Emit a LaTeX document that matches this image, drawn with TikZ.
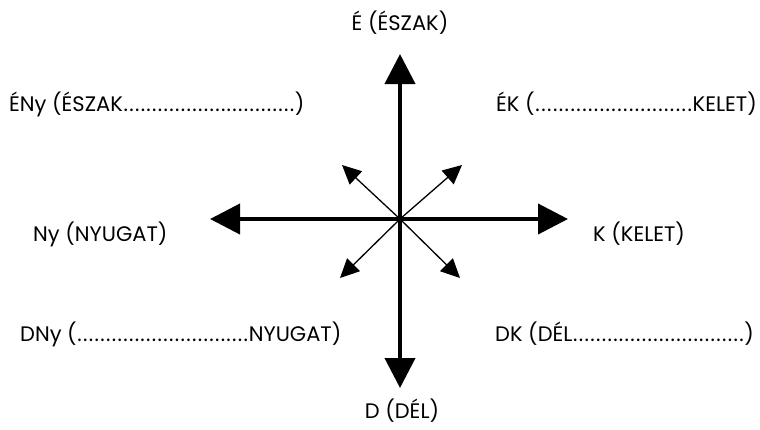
\documentclass[tikz,border=0pt]{standalone}
\usepackage{fontspec}
\setmainfont{Poppins}
\usetikzlibrary{arrows.meta}

\newcommand{\pontok}[1][172pt]{\makebox[#1]{\xleaders\hbox to 5.7pt{\hss.\hss}\hfill}}

\begin{document}
\begin{tikzpicture}[x=1pt,y=-1pt,
    felirat/.style={font=\fontsize{21}{24}\selectfont, inner sep=0pt},
    fo/.style={line width=4pt, -{Triangle[length=30pt,width=30pt]}},
    mellek/.style={line width=1.3pt, -{Triangle[length=19pt,width=18pt]}}]
  \useasboundingbox (0,0) rectangle (760,429);
  % iranyok
  \coordinate (c) at (400,219);
  \coordinate (n) at (400,54);
  \coordinate (s) at (400,388);
  \coordinate (w) at (210,219);
  \coordinate (e) at (568,219);
  \coordinate (nw) at (342,165);
  \coordinate (ne) at (462,165);
  \coordinate (sw) at (340,278);
  \coordinate (se) at (460,278);
  \draw[fo] (c) -- (n);
  \draw[fo] (c) -- (s);
  \draw[fo] (c) -- (w);
  \draw[fo] (c) -- (e);
  \draw[mellek] (c) -- (nw);
  \draw[mellek] (c) -- (ne);
  \draw[mellek] (c) -- (sw);
  \draw[mellek] (c) -- (se);
  % feliratok
  \node (eszak) [felirat] at (400,23) {É (ÉSZAK)};
  \node (del) [felirat] at (402,411) {D (DÉL)};
  \node (nyugat) [felirat, anchor=west] at (33,234) {Ny (NYUGAT)};
  \node (kelet) [felirat, anchor=west] at (593,234) {K (KELET)};
  \node (eny) [felirat, anchor=west] at (9,104) {ÉNy (ÉSZAK\pontok)};
  \node (ek) [felirat, anchor=east] at (757,104) {ÉK (\pontok[158pt]KELET)};
  \node (dny) [felirat, anchor=west] at (20,334) {DNy (\pontok NYUGAT)};
  \node (dk) [felirat, anchor=west] at (495,334) {DK (DÉL\pontok)};
\end{tikzpicture}
\end{document}
